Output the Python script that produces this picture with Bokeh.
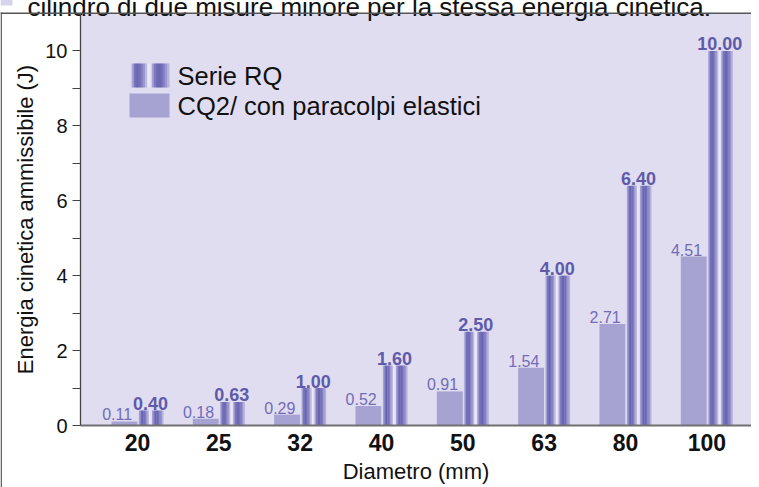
import numpy as np
from bokeh.plotting import figure
from bokeh.models import Range1d, FixedTicker, ColumnDataSource, BoxAnnotation
from bokeh.core.properties import value
from bokeh.embed import file_html
from bokeh.resources import INLINE

# ---------------- data ----------------
diameters = ["20", "25", "32", "40", "50", "63", "80", "100"]
rq_values = [0.40, 0.63, 1.00, 1.60, 2.50, 4.00, 6.40, 10.00]
cq2_values = [0.11, 0.18, 0.29, 0.52, 0.91, 1.54, 2.71, 4.51]
rq_labels = ["0.40", "0.63", "1.00", "1.60", "2.50", "4.00", "6.40", "10.00"]
cq2_labels = ["0.11", "0.18", "0.29", "0.52", "0.91", "1.54", "2.71", "4.51"]
y_ticks = [0, 2, 4, 6, 8, 10]
y_minor_ticks = [1, 3, 5, 7, 9]
y_top = 11
legend_labels = ["Serie RQ", "CQ2/ con paracolpi elastici"]
title_text = "cilindro di due misure minore per la stessa energia cinetica."
x_title = "Diametro (mm)"
y_title = "Energia cinetica ammissibile (J)"

# ---------------- layout / style ----------------
W, H = 751, 495
SHIFT = 8                       # page is pulled up by this many px (see styles)
PL, PT, PB = 88, 13, 425        # plot-area edges in page px
CAT0, CAT_STEP = 145.0, 81.333  # page px of first category, px per category
PX_PER_Y = (PB - PT) / y_top


def xd(px):
    return (px - CAT0) / CAT_STEP


def yd(py):
    return (PB - py) / PX_PER_Y


XA = xd(PL)
x_start, x_end = xd(8), xd(8 + W)
y_start, y_end = yd(H - SHIFT), yd(-SHIFT)

BG = "#E0DDF0"
CQ2_COLOR = "#A6A2D2"
RQ_TEXT = "#5F5AAA"
CQ2_TEXT = "#716CB9"
BAR_W = 0.32
FONT = "Liberation Sans"

# cylinder shading profile (position across bar, colour)
prof_pos = [0.0, 0.05, 0.12, 0.20, 0.30, 0.40, 0.48, 0.53, 0.60, 0.68, 0.78, 0.88, 1.0]
prof_col = ["#F4F3FA", "#C9C6E6", "#7A75BD", "#6661B0", "#7F7ABF", "#B0ACD8", "#F2F1F9",
            "#E2E0F2", "#8E89C7", "#6A65B2", "#6A65B2", "#8C87C6", "#C2BFE2"]
N_STRIPES = 18


def hex2rgb(h):
    h = h.lstrip("#")
    return np.array([int(h[i:i + 2], 16) for i in (0, 2, 4)], dtype=float)


prof_rgb = np.array([hex2rgb(c) for c in prof_col])
stripe_t = (np.arange(N_STRIPES) + 0.5) / N_STRIPES
stripe_colors = []
for t in stripe_t:
    rgb = [np.interp(t, prof_pos, prof_rgb[:, j]) for j in range(3)]
    stripe_colors.append("#%02x%02x%02x" % tuple(int(round(v)) for v in rgb))

p = figure(width=W, height=H, x_range=Range1d(x_start, x_end), y_range=Range1d(y_start, y_end),
           output_backend="svg", toolbar_location=None,
           min_border_left=0, min_border_right=0, min_border_top=0, min_border_bottom=0)
p.styles = {"margin-top": "-%dpx" % SHIFT, "margin-bottom": "-%dpx" % SHIFT}
p.background_fill_color = "white"
p.border_fill_color = "white"
p.outline_line_color = None
p.xgrid.visible = False
p.ygrid.visible = False

# plot-area background
p.add_layout(BoxAnnotation(left=XA, bottom=0, top=y_top, fill_color=BG, fill_alpha=1,
                           line_color=None, level="underlay"))

# x axis
idx = list(range(len(diameters)))
xax = p.xaxis[0]
xax.fixed_location = 0
xax.bounds = (XA, x_end)
xax.ticker = FixedTicker(ticks=idx)
xax.major_label_overrides = {i: d for i, d in zip(idx, diameters)}
xax.major_tick_line_color = None
xax.minor_tick_line_color = None
xax.axis_line_color = "#707070"
xax.axis_line_width = 2
xax.major_label_text_font = FONT
xax.major_label_text_font_size = "23px"
xax.major_label_text_font_style = "bold"
xax.major_label_text_color = "#111111"
xax.major_label_standoff = 2
xax.axis_label = x_title
xax.axis_label_text_font = FONT
xax.axis_label_text_font_size = "22px"
xax.axis_label_text_font_style = "normal"
xax.axis_label_text_color = "#111111"
xax.axis_label_standoff = 5

# y axis
yax = p.yaxis[0]
yax.fixed_location = XA
yax.bounds = (0, y_top)
yax.ticker = FixedTicker(ticks=y_ticks, minor_ticks=y_minor_ticks)
yax.axis_line_color = "#444444"
yax.axis_line_width = 1.3
yax.major_tick_in = 0
yax.major_tick_out = 8
yax.minor_tick_in = 0
yax.minor_tick_out = 8
yax.major_tick_line_color = "#444444"
yax.minor_tick_line_color = "#444444"
yax.major_label_text_font = FONT
yax.major_label_text_font_size = "20px"
yax.major_label_text_color = "#111111"
yax.major_label_standoff = 5
yax.axis_label = y_title
yax.axis_label_text_font = FONT
yax.axis_label_text_font_size = "22px"
yax.axis_label_text_font_style = "normal"
yax.axis_label_text_color = "#111111"
yax.axis_label_standoff = 4

# CQ2 bars
cq2_src = ColumnDataSource(dict(
    left=[i - BAR_W for i in idx], right=[float(i) for i in idx],
    top=cq2_values, bottom=[0.0] * len(idx),
    lx=[i - 0.25 for i in idx], label=cq2_labels))
p.quad(left="left", right="right", top="top", bottom="bottom", source=cq2_src,
       fill_color=CQ2_COLOR, line_color=None)

# RQ bars as shaded stripes
sl, sr, st, sc = [], [], [], []
sw = BAR_W / N_STRIPES
for i, v in zip(idx, rq_values):
    for k in range(N_STRIPES):
        sl.append(i + k * sw)
        sr.append(i + (k + 1) * sw + (0.004 if k < N_STRIPES - 1 else 0))
        st.append(v)
        sc.append(stripe_colors[k])
rq_src = ColumnDataSource(dict(left=sl, right=sr, top=st, bottom=[0.0] * len(sl), color=sc))
p.quad(left="left", right="right", top="top", bottom="bottom", source=rq_src,
       fill_color="color", line_color=None)

# value labels
p.text(x="lx", y="top", text="label", source=cq2_src, text_align="center",
       text_baseline="alphabetic", y_offset=-7, text_font=value(FONT),
       text_font_size="16px", text_color=CQ2_TEXT)
rq_lab_src = ColumnDataSource(dict(x=[i + BAR_W / 2 for i in idx], y=rq_values, label=rq_labels))
p.text(x="x", y="y", text="label", source=rq_lab_src, text_align="center",
       text_baseline="alphabetic", y_offset=-7, text_font=value(FONT),
       text_font_size="18px", text_font_style="bold", text_color=RQ_TEXT)

# legend (drawn manually)
lg_l, lg_r = xd(137), xd(177)
lsl, lsr, lsc = [], [], []
lw = (lg_r - lg_l) / N_STRIPES
for k in range(N_STRIPES):
    lsl.append(lg_l + k * lw)
    lsr.append(lg_l + (k + 1) * lw + (lw * 0.2 if k < N_STRIPES - 1 else 0))
    lsc.append(stripe_colors[k])
leg_src = ColumnDataSource(dict(left=lsl, right=lsr, top=[yd(63)] * N_STRIPES,
                                bottom=[yd(87)] * N_STRIPES, color=lsc))
p.quad(left="left", right="right", top="top", bottom="bottom", source=leg_src,
       fill_color="color", line_color=None)
p.quad(left=[lg_l], right=[lg_r], top=[yd(93)], bottom=[yd(117)],
       fill_color=CQ2_COLOR, line_color=None)
p.text(x=[xd(185), xd(185)], y=[yd(75), yd(105)], text=legend_labels,
       text_baseline="middle", text_align="left", text_font=value(FONT),
       text_font_size="25.5px", text_color="#111111")

# page frame lines, bullet and cropped heading
p.add_layout(BoxAnnotation(left=xd(8), right=xd(9.4), top=yd(12),
                           fill_color="#555555", fill_alpha=1, line_color=None))
p.add_layout(BoxAnnotation(left=xd(8), top=yd(12), bottom=yd(13.4),
                           fill_color="#555555", fill_alpha=1, line_color=None))
p.add_layout(BoxAnnotation(right=xd(20), bottom=yd(5),
                           fill_color="#D6D3EC", fill_alpha=1, line_color=None))
p.text(x=[xd(35)], y=[yd(6)], text=[title_text], text_align="left",
       text_baseline="alphabetic", text_font=value(FONT), text_font_size="26px",
       text_color="#111111")

open("out.html", "w").write(file_html(p, INLINE))
